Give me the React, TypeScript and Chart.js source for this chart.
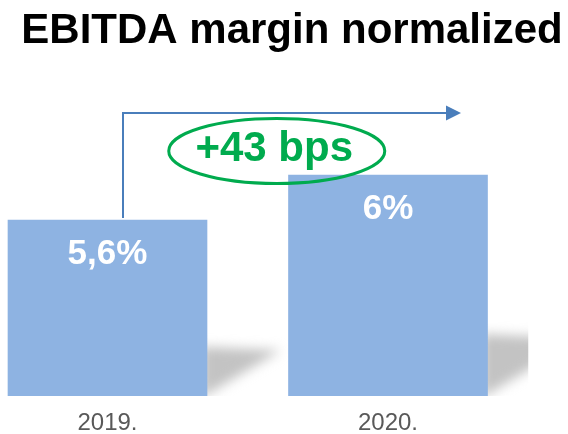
import React, { useEffect, useRef } from "react";
import { Chart, registerables } from "chart.js";

Chart.register(...registerables);

const titleText = "EBITDA margin normalized";
const categories = ["2019.", "2020."];
const marginValues = [5.6, 6.03];
const valueLabels = ["5,6%", "6%"];
const changeLabel = "+43 bps";

const FONT = "'Liberation Sans', Arial, Helvetica, sans-serif";
const BAR_COLOR = "#8eb3e2";
const ARROW_COLOR = "#4a7ebb";
const GREEN = "#00ab4e";

const overlayPlugin = {
  id: "overlay",
  beforeDatasetsDraw(chart: any) {
    const { ctx, chartArea } = chart;
    const bars = chart.getDatasetMeta(0).data;
    if (!bars.length) return;
    const step = bars.length > 1 ? bars[1].x - bars[0].x : 280;
    ctx.save();
    ctx.beginPath();
    ctx.rect(0, 0, bars[bars.length - 1].x + step / 2, chartArea.bottom);
    ctx.clip();
    bars.forEach((bar: any) => {
      const right = bar.x + bar.width / 2;
      const base = chartArea.bottom;
      const h = base - bar.y;
      ctx.save();
      ctx.filter = "blur(6px)";
      ctx.fillStyle = "rgba(185,185,185,0.85)";
      ctx.beginPath();
      ctx.moveTo(right - 6, base - 0.28 * h);
      ctx.lineTo(right + 0.42 * h, base - 0.26 * h);
      ctx.lineTo(right - 6, base + 2);
      ctx.closePath();
      ctx.fill();
      ctx.restore();
    });
    ctx.restore();
  },
  afterDatasetsDraw(chart: any) {
    const { ctx } = chart;
    const bars = chart.getDatasetMeta(0).data;
    if (bars.length < 2) return;
    // value labels
    ctx.save();
    ctx.fillStyle = "#ffffff";
    ctx.font = `bold 35px ${FONT}`;
    ctx.textAlign = "center";
    ctx.textBaseline = "alphabetic";
    bars.forEach((bar: any, i: number) => {
      ctx.fillText(valueLabels[i], bar.x, bar.y + 44);
    });
    ctx.restore();

    const b0 = bars[0];
    const b1 = bars[1];
    // arrow
    const yArrow = b1.y - 62;
    const xStart = b0.x + 15.5;
    const tipX = b1.x + 73;
    ctx.save();
    ctx.strokeStyle = ARROW_COLOR;
    ctx.fillStyle = ARROW_COLOR;
    ctx.lineWidth = 2;
    ctx.beginPath();
    ctx.moveTo(xStart, b0.y - 2);
    ctx.lineTo(xStart, yArrow);
    ctx.lineTo(tipX - 13, yArrow);
    ctx.stroke();
    ctx.beginPath();
    ctx.moveTo(tipX, yArrow);
    ctx.lineTo(tipX - 15, yArrow - 7.5);
    ctx.lineTo(tipX - 15, yArrow + 7.5);
    ctx.closePath();
    ctx.fill();
    ctx.restore();

    // ellipse + change label
    const cx = (b0.x + b1.x) / 2 + 29;
    const cy = b1.y - 24;
    ctx.save();
    ctx.strokeStyle = GREEN;
    ctx.lineWidth = 3;
    ctx.beginPath();
    ctx.ellipse(cx, cy, 108, 32.5, 0, 0, Math.PI * 2);
    ctx.stroke();
    ctx.fillStyle = GREEN;
    ctx.font = `bold 42px ${FONT}`;
    ctx.textAlign = "center";
    ctx.textBaseline = "alphabetic";
    ctx.fillText(changeLabel, cx - 2.5, b1.y - 14);
    ctx.restore();
  },
};

export default function App() {
  const canvasRef = useRef<HTMLCanvasElement | null>(null);

  useEffect(() => {
    if (!canvasRef.current) return;
    const chart = new Chart(canvasRef.current, {
      type: "bar",
      data: {
        labels: categories,
        datasets: [
          {
            data: marginValues,
            backgroundColor: BAR_COLOR,
            borderWidth: 0,
            barThickness: 199,
            clip: { left: 120, right: 120, top: false, bottom: 0 } as any,
          },
        ],
      },
      options: {
        responsive: false,
        animation: false,
        layout: { padding: { left: 16, right: 0, top: 0, bottom: 0 } },
        plugins: {
          legend: { display: false },
          tooltip: { enabled: false },
          title: {
            display: true,
            text: titleText,
            color: "#000000",
            font: { family: FONT, size: 42, weight: "bold" },
            padding: { top: 6, bottom: 17 },
          },
        },
        scales: {
          x: {
            type: "category",
            offset: false,
            grid: { display: false },
            border: { display: false },
            ticks: {
              color: "#595959",
              font: { family: FONT, size: 24 },
              padding: 5,
              maxRotation: 0,
              autoSkip: false,
            },
            afterFit: (s: any) => {
              s.height = 38;
            },
          },
          y: {
            type: "linear",
            min: 3.92,
            max: 7,
            grid: { display: false },
            border: { display: false },
            ticks: { display: false },
            afterFit: (s: any) => {
              s.width = 91.5;
            },
          },
          y2: {
            type: "linear",
            position: "right",
            grid: { display: false },
            border: { display: false },
            ticks: { display: false },
            afterFit: (s: any) => {
              s.width = 180;
            },
          },
        },
      },
      plugins: [overlayPlugin],
    });
    return () => chart.destroy();
  }, []);

  return (
    <div style={{ position: "absolute", left: 0, top: 0, width: 568, height: 434, background: "#ffffff" }}>
      <canvas ref={canvasRef} width={568} height={434} style={{ display: "block" }} />
    </div>
  );
}
